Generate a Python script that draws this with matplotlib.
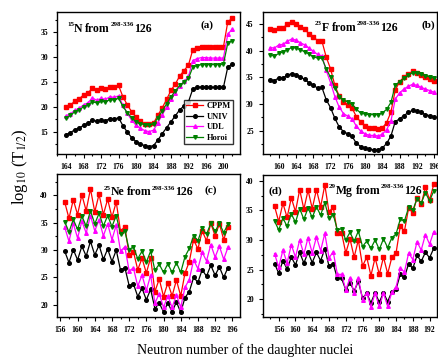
import matplotlib
matplotlib.use("Agg")
import matplotlib.pyplot as plt
from matplotlib.ticker import MultipleLocator
from matplotlib.transforms import offset_copy

plt.rcParams['font.family'] = ['Liberation Serif', 'DejaVu Serif']

# ---------------- (a) 15N ----------------
n_a = list(range(164, 203))
cppm_a = [20.0, 20.3, 21.2, 21.6, 22.4, 22.8, 23.7, 23.3, 23.7, 23.5, 24.0, 23.9, 24.3,
          22.0, 20.4, 19.0, 17.9, 17.1, 16.6, 16.5, 16.7, 18.3, 19.8, 21.5, 23.3, 24.6,
          26.2, 27.3, 28.4, 31.5, 31.9, 32.1, 32.1, 32.0, 32.0, 32.0, 32.0, 37.1, 37.8]
univ_a = [14.4, 14.8, 15.4, 15.7, 16.3, 16.7, 17.3, 17.1, 17.3, 17.2, 17.6, 17.5, 17.8,
          16.2, 14.9, 13.8, 13.0, 12.5, 12.2, 12.0, 12.2, 13.3, 14.6, 15.8, 17.0, 18.2,
          19.4, 20.2, 21.0, 23.6, 23.9, 24.0, 24.0, 23.9, 23.9, 23.9, 23.9, 28.0, 28.6]
udl_a = [18.2, 18.6, 19.3, 19.7, 20.4, 20.8, 21.8, 21.3, 21.7, 21.5, 22.0, 21.9, 22.2,
         20.3, 18.7, 17.3, 16.3, 15.7, 15.2, 15.0, 15.3, 16.8, 18.4, 19.9, 21.5, 22.8,
         24.2, 25.1, 26.1, 29.3, 29.7, 29.9, 29.9, 29.8, 29.8, 29.8, 29.8, 34.6, 35.6]
horoi_a = [17.8, 18.3, 19.0, 19.4, 20.0, 20.4, 21.0, 20.8, 21.1, 21.0, 21.4, 21.4, 21.7,
           20.1, 18.8, 17.8, 17.0, 16.6, 16.4, 16.3, 16.5, 17.8, 19.2, 20.6, 22.0, 23.2,
           24.3, 25.0, 25.7, 28.0, 28.3, 28.5, 28.5, 28.5, 28.5, 28.5, 28.6, 32.8, 33.3]

# ---------------- (b) 23F ----------------
n_b = list(range(158, 197))
cppm_b = [44.0, 43.8, 44.3, 44.3, 45.0, 45.4, 45.1, 44.4, 44.0, 43.2, 42.6, 41.9, 41.8,
          38.8, 36.6, 33.5, 31.5, 30.3, 29.8, 29.2, 27.6, 26.6, 25.9, 25.5, 25.4, 25.3,
          25.5, 26.5, 28.5, 32.6, 34.2, 35.0, 35.6, 36.1, 35.8, 35.5, 35.0, 34.7, 34.4]
univ_b = [34.5, 34.4, 34.9, 34.9, 35.4, 35.7, 35.5, 35.1, 34.6, 34.0, 33.5, 33.0, 33.1,
          30.8, 29.3, 27.3, 25.7, 24.8, 24.4, 23.9, 22.6, 22.0, 21.7, 21.5, 21.4, 21.4,
          21.7, 22.6, 24.0, 26.7, 27.2, 27.8, 28.4, 28.8, 28.7, 28.4, 28.0, 27.8, 27.6]
udl_b = [40.6, 40.5, 41.1, 41.2, 41.8, 42.2, 42.0, 41.5, 41.1, 40.5, 39.9, 39.3, 39.0,
         36.3, 34.0, 31.4, 29.4, 28.2, 27.7, 27.2, 25.8, 24.9, 24.4, 24.1, 24.1, 24.0,
         24.3, 25.2, 26.8, 30.9, 32.1, 32.8, 33.3, 33.7, 33.5, 33.1, 32.8, 32.5, 32.2]
horoi_b = [39.2, 39.0, 39.5, 39.8, 40.2, 40.6, 40.5, 40.2, 39.8, 39.4, 38.9, 38.6, 38.6,
           36.6, 35.0, 33.0, 31.4, 30.7, 30.4, 30.0, 29.0, 28.3, 28.1, 28.0, 28.0, 28.0,
           28.3, 29.0, 30.3, 33.5, 34.2, 34.8, 35.4, 35.9, 35.8, 35.6, 35.3, 35.1, 34.9]

# ---------------- (c) 25Ne ----------------
n_c = list(range(157, 196))
cppm_c = [38.8, 35.8, 39.2, 36.5, 40.1, 37.2, 41.2, 37.0, 40.2, 36.5, 39.3, 36.0, 38.8,
          33.4, 34.3, 29.1, 29.7, 26.4, 28.5, 25.8, 28.6, 22.4, 24.7, 21.5, 24.0, 21.6,
          24.5, 21.6, 25.8, 27.9, 31.9, 30.2, 33.5, 31.7, 34.9, 32.6, 34.8, 31.9, 34.3]
univ_c = [29.8, 27.7, 30.1, 28.2, 30.7, 28.9, 31.6, 29.1, 30.9, 28.3, 30.2, 27.9, 30.0,
          26.3, 26.8, 23.5, 23.8, 21.5, 23.0, 20.9, 22.8, 19.3, 20.3, 18.7, 20.3, 18.7,
          20.5, 18.6, 21.3, 22.4, 25.0, 24.1, 26.4, 25.2, 27.2, 25.4, 26.9, 25.0, 26.8]
udl_c = [34.2, 31.6, 34.9, 32.2, 35.3, 33.1, 36.3, 33.5, 35.5, 32.6, 34.8, 31.9, 34.6,
         29.8, 30.6, 26.2, 26.7, 23.4, 25.4, 22.6, 25.4, 20.3, 22.0, 19.5, 21.6, 19.5,
         21.8, 19.5, 23.2, 24.6, 28.2, 26.6, 29.6, 28.0, 31.0, 28.7, 30.7, 28.3, 30.5]
horoi_c = [35.2, 33.3, 35.6, 33.8, 36.2, 34.4, 37.2, 34.8, 36.7, 34.4, 36.3, 34.3, 36.3,
           32.9, 33.5, 30.1, 30.6, 28.4, 29.8, 27.8, 29.8, 26.3, 27.4, 25.9, 27.5, 25.9,
           27.7, 25.9, 28.8, 30.3, 32.6, 31.7, 34.0, 32.9, 34.9, 33.4, 34.9, 33.2, 34.7]

# ---------------- (d) 29Mg ----------------
n_d = list(range(155, 194))
cppm_d = [35.7, 33.1, 36.2, 33.8, 37.1, 34.8, 38.5, 35.2, 38.4, 35.3, 38.5, 35.6, 39.3,
          34.7, 35.6, 31.2, 31.2, 27.8, 30.2, 27.1, 30.0, 25.6, 27.1, 24.0, 27.0, 24.2,
          27.1, 24.3, 27.1, 27.8, 32.3, 31.5, 35.4, 34.6, 37.1, 36.0, 38.9, 36.8, 39.4]
univ_d = [26.0, 24.4, 26.5, 25.1, 27.1, 25.8, 27.9, 26.1, 27.9, 26.2, 27.9, 26.5, 28.5,
          25.6, 26.0, 23.5, 23.5, 21.6, 22.8, 21.4, 23.0, 20.2, 21.0, 19.4, 21.1, 19.5,
          21.1, 19.6, 21.3, 21.7, 24.2, 23.7, 26.0, 25.2, 27.4, 26.4, 27.9, 27.0, 28.6]
udl_d = [27.7, 25.4, 28.3, 26.1, 29.2, 27.1, 30.0, 27.6, 30.4, 27.8, 30.5, 28.2, 31.1,
         27.0, 28.0, 24.2, 24.2, 21.6, 23.6, 21.0, 23.6, 19.9, 21.1, 18.7, 21.0, 18.8,
         21.0, 18.8, 21.2, 22.0, 25.2, 24.6, 27.8, 26.7, 29.7, 28.3, 30.9, 29.3, 31.4]
horoi_d = [33.2, 31.7, 33.7, 32.3, 34.4, 33.0, 35.3, 33.5, 35.4, 33.8, 35.6, 34.2, 36.3,
           33.7, 34.3, 31.7, 31.9, 30.0, 31.3, 29.8, 31.5, 28.9, 29.8, 28.6, 30.0, 28.4,
           30.2, 28.7, 30.4, 31.0, 33.5, 33.2, 35.5, 35.0, 37.0, 36.2, 38.0, 36.6, 38.3]

labels = ['CPPM', 'UNIV', 'UDL', 'Horoi']
colors = ['#ff0000', '#000000', '#ff00ff', '#008000']
markers = ['s', 'o', '^', 'v']

# emitter mass number, element symbol
emit = [('15', 'N'), ('23', 'F'), ('25', 'Ne'), ('29', 'Mg')]
tags = ['(a)', '(b)', '(c)', '(d)']

panels = [
    (n_a, [cppm_a, univ_a, udl_a, horoi_a], [0.130, 0.571, 0.418, 0.396], (161.9, 203.8), (10.5, 39.1)),
    (n_b, [cppm_b, univ_b, udl_b, horoi_b], [0.600, 0.571, 0.398, 0.396], (156.3, 196.7), (20.6, 47.3)),
    (n_c, [cppm_c, univ_c, udl_c, horoi_c], [0.130, 0.117, 0.418, 0.398], (155.2, 197.8), (17.75, 43.9)),
    (n_d, [cppm_d, univ_d, udl_d, horoi_d], [0.600, 0.117, 0.398, 0.396], (152.2, 193.8), (17.0, 41.0)),
]

title_pos = [(0.055, 0.86), (0.30, 0.866), (0.255, 0.853), (0.38, 0.866)]
tag_pos = [(0.82, 0.905), (0.95, 0.905), (0.84, 0.888), (0.075, 0.887)]

fig = plt.figure(figsize=(4.38, 3.59), dpi=100)
renderer = fig.canvas.get_renderer()


def rich_title(ax, x, y, pieces):
    # pieces: (text, fontsize, rise in points, gap after in points)
    dx = 0.0
    for s, size, rise, gap in pieces:
        tr = offset_copy(ax.transAxes, fig=fig, x=dx, y=rise, units='points')
        t = ax.text(x, y, s, transform=tr, fontsize=size, fontweight='bold',
                    va='baseline', ha='left')
        w = t.get_window_extent(renderer).width * 72.0 / fig.dpi
        dx += w + gap


for i, (n, series, rect, xl, yl) in enumerate(panels):
    ax = fig.add_axes(rect)
    for ys, lab, c, m in zip(series, labels, colors, markers):
        ax.plot(n, ys, color=c, marker=m, markersize=2.6, linewidth=0.9, label=lab)
    ax.set_xlim(*xl)
    ax.set_ylim(*yl)
    ax.xaxis.set_major_locator(MultipleLocator(4))
    ax.xaxis.set_minor_locator(MultipleLocator(2))
    ax.yaxis.set_major_locator(MultipleLocator(5))
    ax.yaxis.set_minor_locator(MultipleLocator(2.5))
    ax.tick_params(which='both', direction='out', labelsize=5.5, width=0.8)
    ax.tick_params(which='major', length=3)
    ax.tick_params(which='minor', length=1.5)
    for lb in ax.get_xticklabels() + ax.get_yticklabels():
        lb.set_fontweight('bold')
    for sp in ax.spines.values():
        sp.set_linewidth(1.0)
    mass, sym = emit[i]
    rich_title(ax, title_pos[i][0], title_pos[i][1],
               [(mass, 5, 4, 0), (sym, 8.5, 0, 2.0), ('from', 8.5, 0, 0.3),
                ('298-336', 5, 4, 0), ('126', 8.5, 0, 0)])
    ax.text(tag_pos[i][0], tag_pos[i][1], tags[i], transform=ax.transAxes,
            fontsize=8, fontweight='bold', ha='center', va='center')
    if i == 0:
        ax.legend(loc='lower right', prop={'weight': 'bold', 'size': 6},
                  frameon=True, fancybox=False, edgecolor='black', handlelength=2.0,
                  borderpad=0.3, labelspacing=0.3, handletextpad=0.4,
                  bbox_to_anchor=(0.985, 0.04))

fig.text(0.045, 0.537, r'log$_{10}$ (T$_{1/2}$)', rotation=90, ha='center', va='center',
         fontsize=12, math_fontfamily='stix')
fig.text(0.56, 0.025, 'Neutron number of the daughter nuclei', ha='center', va='center',
         fontsize=10)

fig.savefig('out.png', dpi=100)
